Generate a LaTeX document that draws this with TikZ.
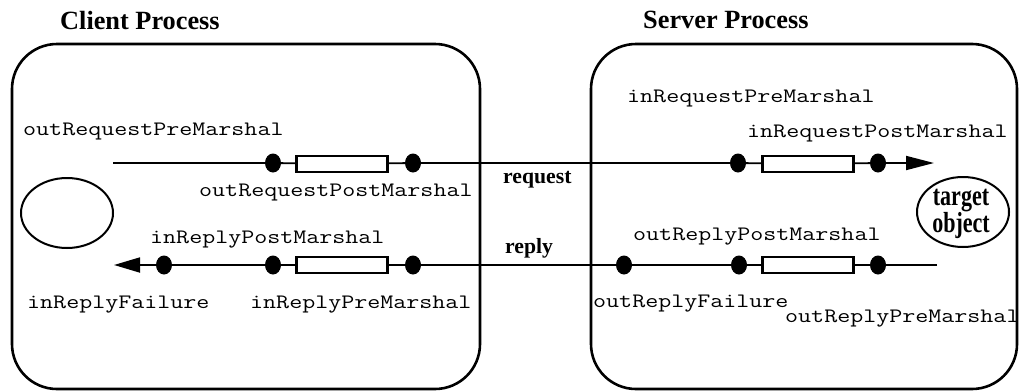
\documentclass[tikz,border=0pt]{standalone}
\usepackage{fontspec}
\setmainfont{Liberation Serif}
\usetikzlibrary{shapes.geometric,arrows.meta}
\newcommand\mywide[1]{\scalebox{1.233}[1]{#1}}
\newcommand\mynarrow[1]{\scalebox{0.76}[1]{#1}}
\tikzset{
  proc/.style={draw,line width=2.6pt,rounded corners=45pt},
  dotnode/.style={ellipse,fill=black,draw=none,minimum width=16pt,minimum height=19pt,inner sep=0pt},
  marsh/.style={rectangle,draw,fill=white,line width=2.2pt,minimum width=91pt,minimum height=16pt,inner sep=0pt},
  lbl/.style={anchor=base west,inner sep=0pt,font=\ttfamily\fontsize{20.5}{24}\selectfont},
  blbl/.style={anchor=base west,inner sep=0pt,font=\bfseries\fontsize{21.7}{24}\selectfont},
  ttl/.style={anchor=base west,inner sep=0pt,font=\bfseries\fontsize{26.3}{30}\selectfont},
  tgt/.style={inner sep=0pt,align=center,font=\bfseries\fontsize{29}{23}\selectfont},
  flow/.style={line width=1.8pt},
}
\begin{document}
\begin{tikzpicture}[x=1pt,y=-1pt]
\useasboundingbox (0,0) rectangle (1019,391);
% process boxes
\node[ttl] (ct) at (60,29) {Client Process};
\node[ttl] (st) at (643,28) {Server Process};
\draw[proc] (12,44) rectangle (480,389);
\draw[proc] (591,44) rectangle (1017,389);
% client ellipse and target object
\node[ellipse,draw,line width=2pt,minimum width=92pt,minimum height=70pt,inner sep=0pt] (cobj) at (67,213) {};
\node[ellipse,draw,line width=2pt,minimum width=92pt,minimum height=70pt,inner sep=0pt] (tobj) at (963,212) {};
\node[tgt] (tt) at (961,214) {\mynarrow{target}\\\mynarrow{object}};
% request line
\coordinate (rqs) at (113,163);
\coordinate (rqe) at (934,163);
\node[dotnode] (rq1) at (273,163) {};
\node[marsh] (rqb1) at (342,164) {};
\node[dotnode] (rq2) at (413,163) {};
\node[dotnode] (rq3) at (738,163) {};
\node[marsh] (rqb2) at (808,164) {};
\node[dotnode] (rq4) at (878,163) {};
\draw[flow,-{Triangle[length=28pt,width=14pt]}] (rqs) -- (rq1) -- (rqb1) -- (rq2) -- (rq3) -- (rqb2) -- (rq4) -- (rqe);
% reply line
\coordinate (rps) at (937,265);
\coordinate (rpe) at (114,265);
\node[dotnode] (rp1) at (878,265) {};
\node[marsh] (rpb1) at (808,265) {};
\node[dotnode] (rp2) at (739,265) {};
\node[dotnode] (rp3) at (624,265) {};
\node[dotnode] (rp4) at (413,265) {};
\node[marsh] (rpb2) at (342,265) {};
\node[dotnode] (rp5) at (273,265) {};
\node[dotnode] (rp6) at (164,265) {};
\draw[flow,-{Triangle[length=26pt,width=15pt]}] (rps) -- (rp1) -- (rpb1) -- (rp2) -- (rp3) -- (rp4) -- (rpb2) -- (rp5) -- (rp6) -- (rpe);
% labels
\node[lbl] (l1) at (23,135) {\mywide{outRequestPreMarshal}};
\node[lbl] (l2) at (199,196) {\mywide{outRequestPostMarshal}};
\node[blbl] (l3) at (503,183) {request};
\node[lbl] (l4) at (627,102) {\mywide{inRequestPreMarshal}};
\node[lbl] (l5) at (747,137) {\mywide{inRequestPostMarshal}};
\node[lbl] (l6) at (150,243) {\mywide{inReplyPostMarshal}};
\node[lbl] (l7) at (27,308) {\mywide{inReplyFailure}};
\node[lbl] (l8) at (250,308) {\mywide{inReplyPreMarshal}};
\node[blbl] (l9) at (505,253) {reply};
\node[lbl] (l10) at (633,240) {\mywide{outReplyPostMarshal}};
\node[lbl] (l11) at (593,307) {\mywide{outReplyFailure}};
\node[lbl] (l12) at (785,322) {\mywide{outReplyPreMarshal}};
\end{tikzpicture}
\end{document}
